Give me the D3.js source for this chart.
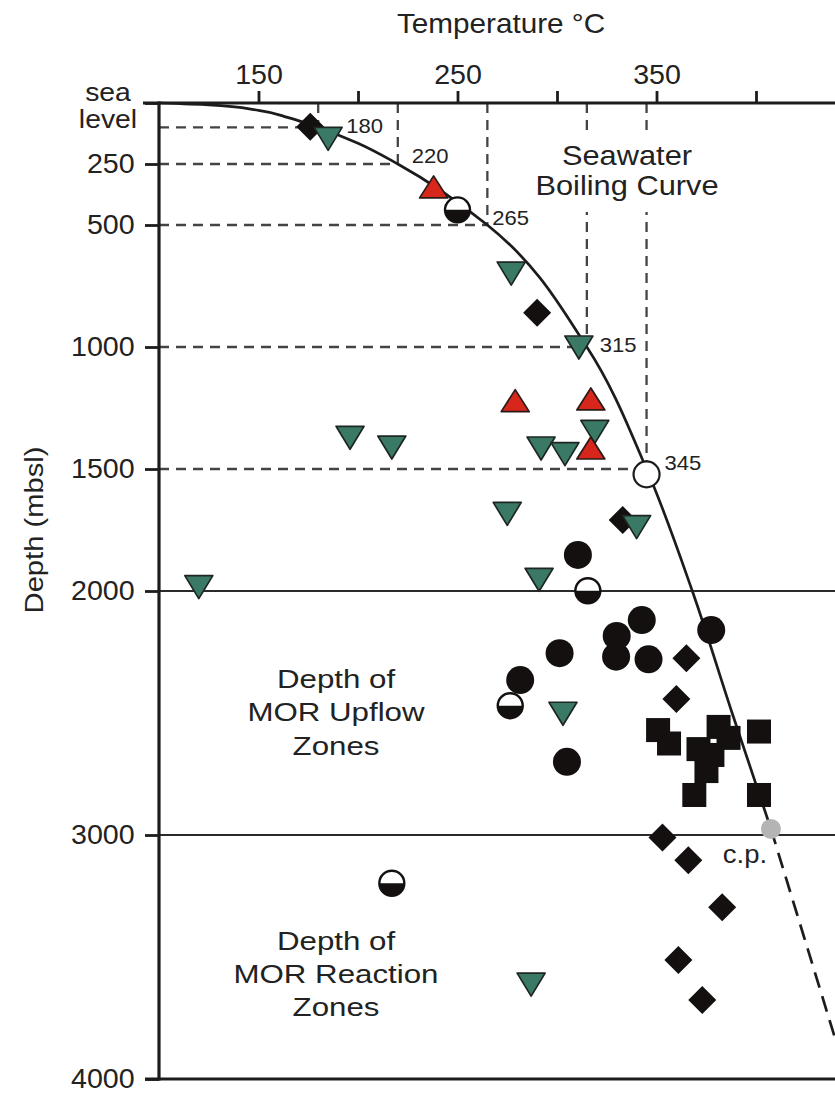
<!DOCTYPE html>
<html>
<head>
<meta charset="utf-8">
<script src="https://cdn.jsdelivr.net/npm/d3@7"></script>
<style>
  html, body { margin: 0; padding: 0; background: #fff; }
  svg { display: block; font-family: "Liberation Sans", Arial, sans-serif; }
</style>
</head>
<body>
<svg id="chart" width="835" height="1094"></svg>
<script>
// ---- data: [temperature °C, depth m below sea level] ----
const boilingCurve = [[100, 0], [125, 8], [150, 30], [165, 60], [180, 100], [200, 165],
  [220, 250], [265, 500], [315, 1000], [345, 1500], [368, 2000], [388, 2500], [407.5, 2975]];
const supercriticalTrend = [[407.5, 2975], [446, 4000]];
const criticalPoint = [[407.5, 2975]];
const boilingRefs = [[180, 100], [220, 250], [265, 500], [315, 1000], [345, 1500]];

const diamonds = [[176, 97], [290, 860], [333, 1709], [365, 2276], [360, 2443],
  [353, 3010], [366, 3103], [383, 3296], [361, 3512], [373, 3676]];
const squares = [[350.8, 2570], [356.3, 2625], [381.2, 2557], [386.2, 2602], [371.1, 2648],
  [378.1, 2672], [375.1, 2738], [369, 2836], [401.5, 2576], [401.5, 2836]];
const blackCircles = [[310.5, 1852], [342.6, 2119], [377.5, 2160], [330, 2184], [329.7, 2269],
  [346, 2280], [301.3, 2255], [281.5, 2365], [305, 2700]];
const greenTriangles = [[185, 145], [277, 697], [311, 1000], [196, 1370], [217, 1410],
  [292, 1414], [304, 1437], [319, 1346], [275, 1682], [340, 1736], [120, 1982],
  [291, 1952], [303, 2501], [287, 3611]];
const redTriangles = [[238, 348], [279, 1224], [317, 1217], [317, 1418]];
const halfCircles = [[250, 438], [315.5, 1999], [276.5, 2470], [217, 3198]];
const whiteCircles = [[345, 1522]];

const tempTicks = [150, 200, 250, 300, 350, 400];
const tempLabels = [150, 250, 350];
const depthTicks = [0, 250, 500, 1000, 1500, 2000, 3000, 4000];
const depthGrid = [2000, 3000];

// ---- layout ----
const W = 835, H = 1094;
const svg = d3.select("#chart");
const x = d3.scaleLinear().domain([100, 440]).range([159, 835.6]);
const y = d3.scaleLinear().domain([0, 4000]).range([103, 1079]);
const ink = "#1c1c1c", textInk = "#222";

function label(g, px, py, str, size, sx, anchor, rot) {
  return g.append("text")
    .attr("transform", `translate(${px},${py})${rot ? ` rotate(${rot})` : ""} scale(${sx},1)`)
    .attr("text-anchor", anchor || "middle")
    .attr("font-size", size)
    .attr("fill", textInk)
    .text(str);
}

// reference grid lines at 2000 and 3000 m
svg.append("g").selectAll("line").data(depthGrid).join("line")
  .attr("x1", x(100)).attr("x2", W)
  .attr("y1", d => y(d)).attr("y2", d => y(d))
  .attr("stroke", "#2a2a2a").attr("stroke-width", 2.2);

// dashed guides from the axes to points on the boiling curve
const guides = svg.append("g").attr("stroke", "#444").attr("stroke-width", 2.3)
  .attr("stroke-dasharray", "10,7").attr("fill", "none");
guides.selectAll("line.h").data(boilingRefs).join("line").attr("class", "h")
  .attr("x1", x(100)).attr("x2", d => x(d[0]))
  .attr("y1", d => y(d[1])).attr("y2", d => y(d[1]));
guides.selectAll("line.v").data(boilingRefs).join("line").attr("class", "v")
  .attr("x1", d => x(d[0])).attr("x2", d => x(d[0]))
  .attr("y1", y(0)).attr("y2", d => y(d[1]));

// curve title, with a white panel that interrupts the guides behind it
const titleG = svg.append("g");
titleG.append("rect").attr("x", 540).attr("y", 134).attr("width", 190).attr("height", 78).attr("fill", "#fff");
label(titleG, 627, 165, "Seawater", 27.5, 1.12);
label(titleG, 627, 195, "Boiling Curve", 27.5, 1.12);

// temperature labels at the guide intersections
const refOffsets = [[28, 6], [14, -1], [5, 0], [13, 5], [18, 1]];
boilingRefs.forEach((d, i) => {
  label(svg, x(d[0]) + refOffsets[i][0], y(d[1]) + refOffsets[i][1], String(d[0]), 21, 1.05, "start");
});

// boiling curve and its dashed continuation past the critical point
const line = d3.line().x(d => x(d[0])).y(d => y(d[1])).curve(d3.curveMonotoneY);
svg.append("path").datum(boilingCurve).attr("d", line)
  .attr("fill", "none").attr("stroke", ink).attr("stroke-width", 2.7);
svg.append("path").datum(supercriticalTrend).attr("d", d3.line().x(d => x(d[0])).y(d => y(d[1])))
  .attr("fill", "none").attr("stroke", ink).attr("stroke-width", 2.7).attr("stroke-dasharray", "16,9");

// ---- axes ----
const topAxis = svg.append("g").attr("transform", `translate(0,${y(0)})`)
  .call(d3.axisTop(x).tickValues(tempTicks).tickSize(12).tickPadding(7)
    .tickFormat(d => tempLabels.includes(d) ? d : ""));
const leftAxis = svg.append("g").attr("transform", `translate(${x(100)},0)`)
  .call(d3.axisLeft(y).tickValues(depthTicks).tickSize(14).tickPadding(9)
    .tickFormat(d => d === 0 ? "" : d));
[topAxis, leftAxis].forEach(g => {
  g.select(".domain").remove();
  g.attr("font-family", null).attr("font-size", 27);
  g.selectAll(".tick line").attr("stroke", ink).attr("stroke-width", 2.8);
  g.selectAll(".tick text").attr("fill", textInk).attr("transform", "scale(1.06,1)");
});
svg.append("line").attr("x1", x(100) - 16).attr("x2", W).attr("y1", y(0)).attr("y2", y(0))
  .attr("stroke", ink).attr("stroke-width", 3.2);
svg.append("line").attr("x1", x(100)).attr("x2", x(100)).attr("y1", y(0) - 1.5).attr("y2", y(4000) + 1.5)
  .attr("stroke", ink).attr("stroke-width", 3.2);
svg.append("line").attr("x1", x(100) - 14).attr("x2", W).attr("y1", y(4000)).attr("y2", y(4000))
  .attr("stroke", ink).attr("stroke-width", 3.2);

label(svg, 108, 101, "sea", 26.5, 1.07);
label(svg, 108, 128, "level", 26.5, 1.07);
label(svg, 501, 33, "Temperature °C", 27.5, 1.08);
label(svg, 43, 530, "Depth (mbsl)", 26.5, 1.1, "middle", -90);

// zone annotations
[["Depth of", 688], ["MOR Upflow", 721], ["Zones", 755]].forEach(([t, b]) => label(svg, 336, b, t, 26.5, 1.18));
[["Depth of", 950], ["MOR Reaction", 983], ["Zones", 1016]].forEach(([t, b]) => label(svg, 336, b, t, 26.5, 1.18));
label(svg, 745, 863, "c.p.", 25, 1.1);

// ---- markers ----
const marks = svg.append("g");
const black = "#141010";

marks.append("g").selectAll("path").data(diamonds).join("path")
  .attr("transform", d => `translate(${x(d[0])},${y(d[1])})`)
  .attr("d", "M0,-14L14,0L0,14L-14,0Z").attr("fill", black);

marks.append("g").selectAll("rect").data(squares).join("rect")
  .attr("x", d => x(d[0]) - 12).attr("y", d => y(d[1]) - 12)
  .attr("width", 24).attr("height", 24).attr("fill", black);

marks.append("g").selectAll("circle").data(blackCircles).join("circle")
  .attr("cx", d => x(d[0])).attr("cy", d => y(d[1])).attr("r", 14).attr("fill", black);

marks.append("g").selectAll("path").data(greenTriangles).join("path")
  .attr("transform", d => `translate(${x(d[0])},${y(d[1])})`)
  .attr("d", "M-14,-11L14,-11L0,12Z")
  .attr("fill", "#3b7967").attr("stroke", "#1e2622").attr("stroke-width", 1.7).attr("stroke-linejoin", "round");

marks.append("g").selectAll("path").data(redTriangles).join("path")
  .attr("transform", d => `translate(${x(d[0])},${y(d[1])})`)
  .attr("d", "M-14,10L14,10L0,-12Z")
  .attr("fill", "#d7261c").attr("stroke", "#2a1a18").attr("stroke-width", 1.7).attr("stroke-linejoin", "round");

const half = marks.append("g").selectAll("g").data(halfCircles).join("g")
  .attr("transform", d => `translate(${x(d[0])},${y(d[1])})`);
half.append("circle").attr("r", 12.5).attr("fill", "#fff").attr("stroke", black).attr("stroke-width", 2.4);
half.append("path").attr("d", "M-12.5,0A12.5,12.5 0 0 0 12.5,0Z").attr("fill", black);

marks.append("g").selectAll("circle").data(whiteCircles).join("circle")
  .attr("cx", d => x(d[0])).attr("cy", d => y(d[1])).attr("r", 13)
  .attr("fill", "#fff").attr("stroke", ink).attr("stroke-width", 2.2);

marks.append("g").selectAll("circle").data(criticalPoint).join("circle")
  .attr("cx", d => x(d[0])).attr("cy", d => y(d[1])).attr("r", 10).attr("fill", "#b4b4b4");
</script>
</body>
</html>
